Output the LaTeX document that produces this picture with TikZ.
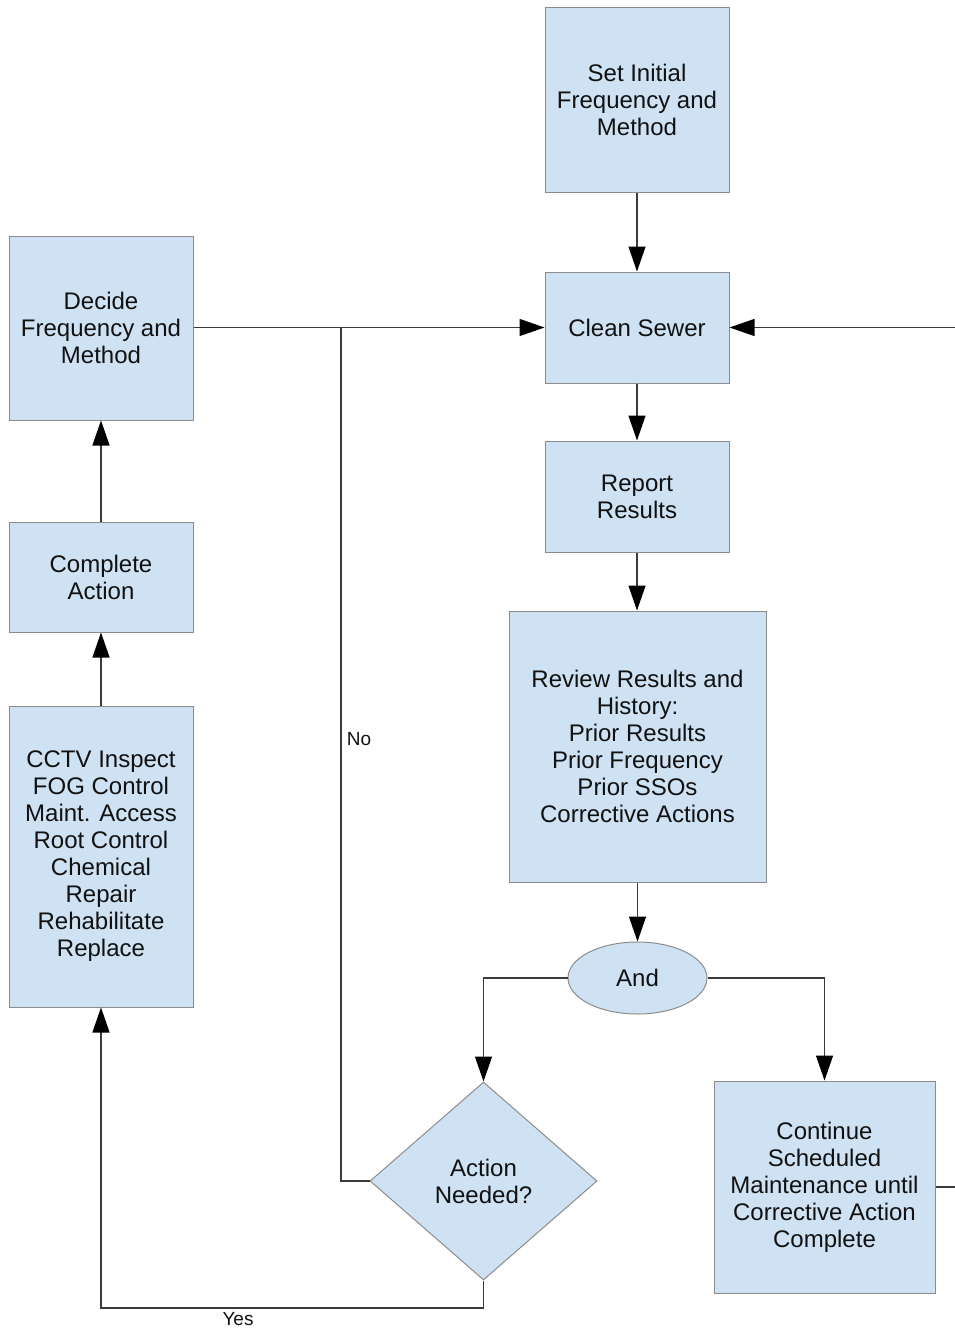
\documentclass[tikz,border=0pt]{standalone}
\usepackage{fontspec}
\setmainfont{Liberation Sans}
\usetikzlibrary{shapes.geometric,arrows.meta}
\definecolor{boxfill}{HTML}{CFE2F3}
\definecolor{boxline}{HTML}{8C8C8C}
\definecolor{wire}{HTML}{3A3A3A}
\definecolor{ink}{HTML}{111111}
\begin{document}
\begin{tikzpicture}[x=1pt,y=-1pt,
  every node/.style={text=ink},
  box/.style={draw=boxline,line width=1pt,fill=boxfill,rectangle,inner sep=0pt,
    align=center,font=\fontsize{24}{27}\selectfont},
  andshape/.style={draw=boxline,line width=1pt,fill=boxfill,ellipse,inner sep=0pt,
    minimum width=139pt,minimum height=72pt,font=\fontsize{24}{27}\selectfont},
  decision/.style={draw=boxline,line width=1pt,fill=boxfill,diamond,inner sep=0pt,
    minimum width=227pt,minimum height=198pt,align=center,font=\fontsize{24}{27}\selectfont},
  conn/.style={draw=wire,line width=1.3pt},
  arr/.style={conn,-{Triangle[length=25pt,width=17pt,color=black]}},
  lbl/.style={font=\fontsize{19}{21}\selectfont}
]
\useasboundingbox (0,0) rectangle (955,1330);

\node[box,minimum width=184pt,minimum height=184pt] (setinit) at (637,100) {Set Initial\\Frequency and\\Method};
\node[box,minimum width=184pt,minimum height=111pt] (clean) at (637,327.5) {Clean Sewer};
\node[box,minimum width=184pt,minimum height=111pt] (report) at (637,496.5) {Report\\Results};
\node[box,minimum width=257pt,minimum height=271pt] (review) at (637.5,746.5) {Review Results and\\History:\\Prior Results\\Prior Frequency\\Prior SSOs\\Corrective Actions};
\node[andshape] (and) at (637.5,978) {And};
\node[decision] (action) at (483.5,1181) {Action\\Needed?};
\node[box,minimum width=221pt,minimum height=212pt] (cont) at (824.5,1187) {Continue\\Scheduled\\Maintenance until\\Corrective Action\\Complete};
\node[box,minimum width=184pt,minimum height=184pt] (decide) at (101,328) {Decide\\Frequency and\\Method};
\node[box,minimum width=184pt,minimum height=110pt] (complete) at (101,577) {Complete\\Action};
\node[box,minimum width=184pt,minimum height=301pt] (cctv) at (101,856.5) {CCTV Inspect\\FOG Control\\Maint. Access\\Root Control\\Chemical\\Repair\\Rehabilitate\\Replace};

\coordinate (jno) at (341,327.5);
\coordinate (rtop) at (958,327.5);
\coordinate (rbot) at (958,1187);
\coordinate (ybot) at (483.5,1308);

\draw[arr] (setinit) -- (clean);
\draw[arr] (clean) -- (report);
\draw[arr] (report.south) -- (report.south |- review.north);
\draw[arr] (review) -- (and);
\draw[arr] (decide.east |- clean.west) -- (clean.west);
\draw[conn] (action.west) -| (jno);
\draw[arr] (and.west) -| (action.north);
\draw[arr] (and.east) -| (cont.north);
\draw[conn] (cont.east) -- (rbot) -- (rtop);
\draw[arr] (rtop) -- (clean.east);
\draw[arr] (action.south) -- (ybot) -| (cctv.south);
\draw[arr] (cctv) -- (complete);
\draw[arr] (complete) -- (decide);

\node[lbl] (nolbl) at (359,739) {No};
\node[lbl] (yeslbl) at (238,1319) {Yes};
\end{tikzpicture}
\end{document}
